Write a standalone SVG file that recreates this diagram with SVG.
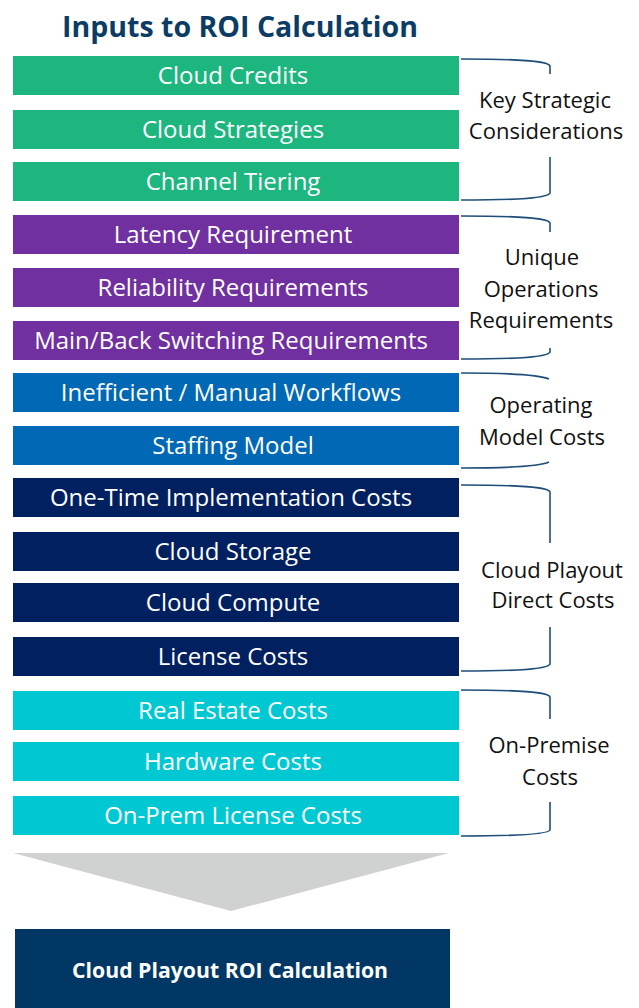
<svg xmlns="http://www.w3.org/2000/svg" width="639" height="1008" viewBox="0 0 639 1008">
<style>
.bar-text{font-family:"Open Sans","Liberation Sans",sans-serif;font-size:24px;fill:#ffffff;text-anchor:middle}
.lbl{font-family:"Open Sans","Liberation Sans",sans-serif;font-size:22px;fill:#111111;text-anchor:middle}
.brace{fill:none;stroke:#1F4E79;stroke-width:1.6}
.g{fill:#1DB67F}.p{fill:#7030A0}.b{fill:#0068B4}.n{fill:#002060}.c{fill:#00C8D3}
</style>
<rect width="639" height="1008" fill="#ffffff"/>
<text x="240" y="37" font-family="'Open Sans','Liberation Sans',sans-serif" font-size="29" font-weight="bold" fill="#0B3C65" text-anchor="middle" textLength="356" lengthAdjust="spacingAndGlyphs">Inputs to ROI Calculation</text>

<g id="n1"><rect class="g" x="13" y="56" width="446" height="39"/><text class="bar-text" x="233" y="84">Cloud Credits</text></g>
<g id="n2"><rect class="g" x="13" y="110" width="446" height="39"/><text class="bar-text" x="233" y="138">Cloud Strategies</text></g>
<g id="n3"><rect class="g" x="13" y="162" width="446" height="39"/><text class="bar-text" x="233" y="190">Channel Tiering</text></g>
<g id="n4"><rect class="p" x="13" y="215" width="446" height="39"/><text class="bar-text" x="233" y="243">Latency Requirement</text></g>
<g id="n5"><rect class="p" x="13" y="268" width="446" height="39"/><text class="bar-text" x="233" y="296">Reliability Requirements</text></g>
<g id="n6"><rect class="p" x="13" y="321" width="446" height="39"/><text class="bar-text" x="231" y="349">Main/Back Switching Requirements</text></g>
<g id="n7"><rect class="b" x="13" y="373" width="446" height="39"/><text class="bar-text" x="231" y="401">Inefficient / Manual Workflows</text></g>
<g id="n8"><rect class="b" x="13" y="426" width="446" height="39"/><text class="bar-text" x="233" y="454">Staffing Model</text></g>
<g id="n9"><rect class="n" x="13" y="478" width="446" height="39"/><text class="bar-text" x="231" y="506">One-Time Implementation Costs</text></g>
<g id="n10"><rect class="n" x="13" y="532" width="446" height="39"/><text class="bar-text" x="233" y="560">Cloud Storage</text></g>
<g id="n11"><rect class="n" x="13" y="583" width="446" height="39"/><text class="bar-text" x="233" y="611">Cloud Compute</text></g>
<g id="n12"><rect class="n" x="13" y="637" width="446" height="39"/><text class="bar-text" x="233" y="665">License Costs</text></g>
<g id="n13"><rect class="c" x="13" y="691" width="446" height="39"/><text class="bar-text" x="233" y="719">Real Estate Costs</text></g>
<g id="n14"><rect class="c" x="13" y="742" width="446" height="39"/><text class="bar-text" x="233" y="770">Hardware Costs</text></g>
<g id="n15"><rect class="c" x="13" y="796" width="446" height="39"/><text class="bar-text" x="233" y="824">On-Prem License Costs</text></g>

<g id="connectors">
<path class="brace" d="M461,59 C520,59 548,61 550,66 L550,74 M550,157 L550,193 C548,198 520,200 461,200"/>
<path class="brace" d="M461,216 C520,216 548,218 550,223 L550,232 M550,348 L550,352 C548,357 520,359 461,359"/>
<path class="brace" d="M461,373 C515,373 540,375 549,379 M549,462 C540,466 515,468 461,468"/>
<path class="brace" d="M461,485 C520,485 548,487 550,492 L550,543 M550,627 L550,664 C548,669 520,671 461,671"/>
<path class="brace" d="M461,690 C520,690 548,692 550,697 L550,719 M550,802 L550,830 C548,834 520,836 461,836"/>
<polygon points="13,853 449,853 231,911" fill="#D0D2D1"/>
</g>

<g id="labels">
<text class="lbl" x="545" y="108">Key Strategic</text>
<text class="lbl" x="546" y="139">Considerations</text>
<text class="lbl" x="542" y="265">Unique</text>
<text class="lbl" x="541" y="297">Operations</text>
<text class="lbl" x="541" y="328">Requirements</text>
<text class="lbl" x="541" y="413">Operating</text>
<text class="lbl" x="542" y="445">Model Costs</text>
<text class="lbl" x="552" y="578">Cloud Playout</text>
<text class="lbl" x="553" y="608">Direct Costs</text>
<text class="lbl" x="549" y="753">On-Premise</text>
<text class="lbl" x="550" y="785">Costs</text>
</g>

<g id="result">
<rect x="15" y="929" width="435" height="79" fill="#003764"/>
<text x="230" y="978" font-family="'Open Sans','Liberation Sans',sans-serif" font-size="21" font-weight="bold" fill="#ffffff" text-anchor="middle" textLength="316" lengthAdjust="spacingAndGlyphs">Cloud Playout ROI Calculation</text>
</g>
</svg>
